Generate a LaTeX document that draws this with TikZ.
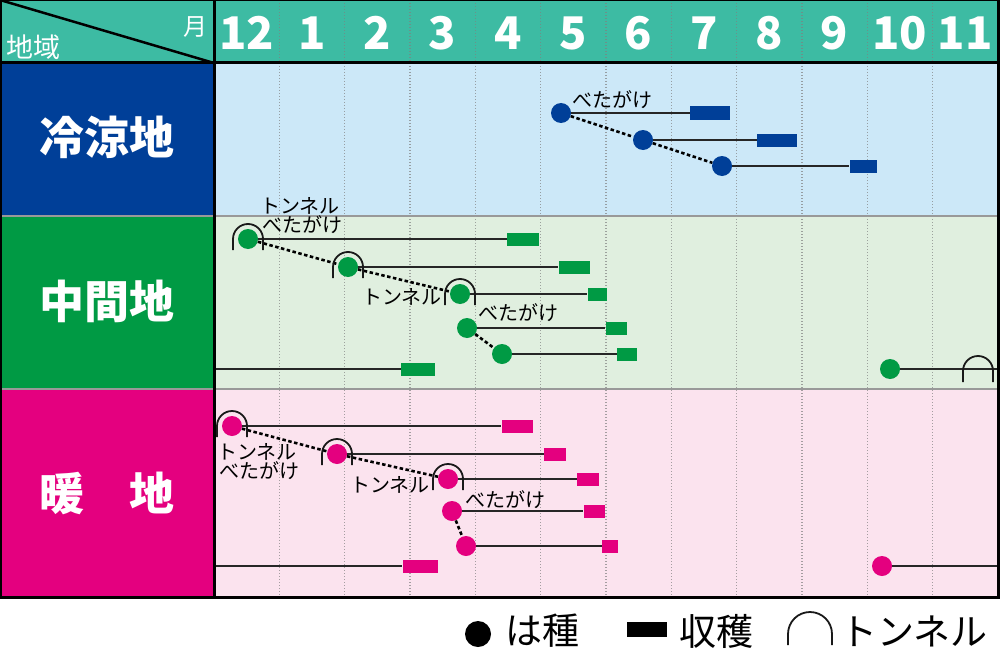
\documentclass[tikz,border=0pt]{standalone}
\usepackage{fontspec}
\newfontfamily\jp{Noto Sans CJK JP}
\usepackage{tikz}
\usetikzlibrary{positioning}
\definecolor{headteal}{HTML}{3DBBA3}
\definecolor{coldblue}{HTML}{003F98}
\definecolor{midgreen}{HTML}{009A44}
\definecolor{warmpink}{HTML}{E4007F}
\definecolor{coldbg}{HTML}{CCE8F8}
\definecolor{midbg}{HTML}{E0EFDF}
\definecolor{warmbg}{HTML}{FBE3EE}
\newcommand{\TunnelArch}[2][15pt]{
  \draw[tunnelarch] ([shift={(-#1,-11pt)}]#2) -- ++(0pt,11pt)
    arc[start angle=180,end angle=0,radius=#1] -- ++(0pt,-11pt);
}

\begin{document}
\begin{tikzpicture}[x=1pt,y=-1pt,
    sowdot/.style={circle,fill=#1,minimum size=20pt,inner sep=0pt},
    cropbar/.style={rectangle,fill=#1,minimum height=13pt,inner sep=0pt},
    period/.style={line width=1.6pt,black!85},
    relay/.style={line width=2.6pt,dash pattern=on 3.5pt off 2.5pt},
    tunnelarch/.style={line width=1.8pt,black!90},
    tag/.style={font=\jp\fontsize{20}{20}\selectfont,inner sep=0pt},
    monthlabel/.style={font=\jp\bfseries\fontsize{45}{45}\selectfont,text=white,inner sep=0pt},
    zonelabel/.style={font=\jp\bfseries\fontsize{45}{45}\selectfont,text=white,inner sep=0pt},
    legendtext/.style={font=\jp\fontsize{37}{37}\selectfont,inner sep=0pt}]
  \useasboundingbox (0,0) rectangle (1000,658);

  % bands
  \fill[headteal] (0,0) rectangle (998,63);
  \fill[coldblue] (0,63) rectangle (214,216);
  \fill[midgreen] (0,216) rectangle (214,389);
  \fill[warmpink] (0,389) rectangle (214,597);
  \fill[coldbg] (214,63) rectangle (998,216);
  \fill[midbg] (214,216) rectangle (998,389);
  \fill[warmbg] (214,389) rectangle (998,597);

  % month grid
  \foreach \k in {1,...,11}
    \draw[gray,opacity=0.7,line width=1.4pt,dash pattern=on 1.4pt off 1.6pt]
      ({214+65.33*\k},0) -- ({214+65.33*\k},597);
  \draw[gray!80,line width=2pt] (0,216) -- (998,216) (0,389) -- (998,389);

  % header
  \draw[line width=2.5pt] (0,0) -- (214,63);
  \node[font=\jp\fontsize{24}{24}\selectfont,text=white,inner sep=0pt] (monthhead) at (195,27) {月};
  \node[font=\jp\fontsize{27}{27}\selectfont,text=white,inner sep=0pt] (zonehead) at (33,47) {地域};
  \foreach \m [count=\i from 0] in {12,1,2,3,4,5,6,7,8,9,10,11}
    \node[monthlabel] (mon\m) at ({214+65.33*(\i+0.5)},33) {\m};

  \node[zonelabel] (cold) at (107,137) {冷涼地};
  \node[zonelabel] (mid) at (107,301) {中間地};
  \node[zonelabel] (warm) at (107,493) {暖　地};

  % cold
  \node[sowdot=coldblue] (c1) at (561,113) {};
  \node[sowdot=coldblue] (c2) at (643,140) {};
  \node[sowdot=coldblue] (c3) at (722,166) {};
  \node[cropbar=coldblue,minimum width=40pt] (ch1) at (710,113) {};
  \node[cropbar=coldblue,minimum width=40pt] (ch2) at (777,140) {};
  \node[cropbar=coldblue,minimum width=27pt] (ch3) at (863,166) {};
  \draw[period] (c1) -- (ch1);
  \draw[period] (c2) -- (ch2);
  \draw[period] (c3) -- (ch3);
  \draw[relay] (c1) -- (c2) -- (c3);
  \node[tag] (cbeta) at (612,100) {べたがけ};

  % middle
  \node[sowdot=midgreen] (m1) at (248,239) {};
  \node[sowdot=midgreen] (m2) at (348,267) {};
  \node[sowdot=midgreen] (m3) at (460,294) {};
  \node[sowdot=midgreen] (m4) at (467,328) {};
  \node[sowdot=midgreen] (m5) at (502,354) {};
  \node[sowdot=midgreen] (m6) at (890,369) {};
  \node[cropbar=midgreen,minimum width=32pt] (mh1) at (523,239) {};
  \node[cropbar=midgreen,minimum width=31pt] (mh2) at (574,267) {};
  \node[cropbar=midgreen,minimum width=19pt] (mh3) at (597,294) {};
  \node[cropbar=midgreen,minimum width=21pt] (mh4) at (616,328) {};
  \node[cropbar=midgreen,minimum width=20pt] (mh5) at (627,354) {};
  \node[cropbar=midgreen,minimum width=34pt] (mh6) at (418,369) {};
  \coordinate (mstart) at (214,369);
  \coordinate (mend) at (998,369);
  \coordinate (mtun) at (978,371);
  \draw[period] (m1) -- (mh1);
  \draw[period] (m2) -- (mh2);
  \draw[period] (m3) -- (mh3);
  \draw[period] (m4) -- (mh4);
  \draw[period] (m5) -- (mh5);
  \draw[period] (mstart) -- (mh6);
  \draw[period] (m6) -- (mend);
  \draw[relay] (m1) -- (m2) -- (m3);
  \draw[relay] (m4) -- (m5);
  \TunnelArch{m1.center}
  \TunnelArch{m2.center}
  \TunnelArch{m3.center}
  \TunnelArch{mtun}
  \node[tag] (mtun1) at (300,206) {トンネル};
  \node[tag] (mbeta1) at (302,225) {べたがけ};
  \node[tag] (mtun2) at (402,297) {トンネル};
  \node[tag] (mbeta2) at (518,313) {べたがけ};

  % warm
  \node[sowdot=warmpink] (w1) at (232,426) {};
  \node[sowdot=warmpink] (w2) at (337,454) {};
  \node[sowdot=warmpink] (w3) at (448,479) {};
  \node[sowdot=warmpink] (w4) at (452,511) {};
  \node[sowdot=warmpink] (w5) at (466,546) {};
  \node[sowdot=warmpink] (w6) at (882,566) {};
  \node[cropbar=warmpink,minimum width=31pt] (wh1) at (517,426) {};
  \node[cropbar=warmpink,minimum width=22pt] (wh2) at (555,454) {};
  \node[cropbar=warmpink,minimum width=22pt] (wh3) at (588,479) {};
  \node[cropbar=warmpink,minimum width=21pt] (wh4) at (594,511) {};
  \node[cropbar=warmpink,minimum width=16pt] (wh5) at (610,546) {};
  \node[cropbar=warmpink,minimum width=35pt] (wh6) at (420,566) {};
  \coordinate (wstart) at (214,566);
  \coordinate (wend) at (998,566);
  \draw[period] (w1) -- (wh1);
  \draw[period] (w2) -- (wh2);
  \draw[period] (w3) -- (wh3);
  \draw[period] (w4) -- (wh4);
  \draw[period] (w5) -- (wh5);
  \draw[period] (wstart) -- (wh6);
  \draw[period] (w6) -- (wend);
  \draw[relay] (w1) -- (w2) -- (w3);
  \draw[relay] (w4) -- (w5);
  \TunnelArch{w1.center}
  \TunnelArch{w2.center}
  \TunnelArch{w3.center}
  \node[tag] (wtun1) at (257,452) {トンネル};
  \node[tag] (wbeta1) at (259,471) {べたがけ};
  \node[tag] (wtun2) at (390,485) {トンネル};
  \node[tag] (wbeta2) at (505,500) {べたがけ};

  % frame
  \draw[line width=3pt] (0,63) -- (998,63);
  \draw[line width=3pt] (214,0) -- (214,597);
  \draw[line width=3pt] (0,0) rectangle (998,597);

  % legend
  \node[sowdot=black,minimum size=26pt] (legsow) at (478,634) {};
  \node[legendtext] (legsowtxt) at (542,631) {は種};
  \node[cropbar=black,minimum width=40pt,minimum height=15pt] (legcrop) at (647,629) {};
  \node[legendtext] (legcroptxt) at (716,631) {収穫};
  \coordinate (legtun) at (810,634);
  \TunnelArch[22pt]{legtun}
  \node[legendtext] (legtuntxt) at (914,631) {トンネル};
\end{tikzpicture}
\end{document}
